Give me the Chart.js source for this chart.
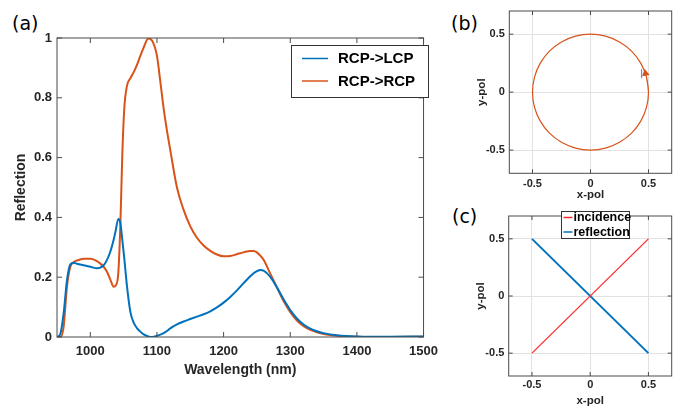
<!DOCTYPE html>
<html>
<head>
<meta charset="utf-8">
<script src="https://cdn.jsdelivr.net/npm/chart.js@4.4.1/dist/chart.umd.min.js"></script>
<style>
  body { margin: 0; background: #fff; width: 685px; height: 413px; overflow: hidden; position: relative; }
  canvas { position: absolute; }
  .lbl { position: absolute; font-family: "DejaVu Sans", sans-serif; font-size: 19px; line-height: 19px; color: #000; }
</style>
</head>
<body>
<div class="lbl" style="left:12px; top:14px;">(a)</div>
<div class="lbl" style="left:451px; top:14px;">(b)</div>
<div class="lbl" style="left:452px; top:207px;">(c)</div>
<canvas id="ca" width="445" height="413" style="left:0; top:0;"></canvas>
<canvas id="cb" width="230" height="205" style="left:455px; top:0;"></canvas>
<canvas id="cc" width="230" height="208" style="left:455px; top:205px;"></canvas>
<script>
// (a) reflection spectra
var wavelength = [950, 955, 960, 965, 970, 975, 980, 990, 1000, 1010, 1020, 1025, 1030, 1035, 1038, 1042, 1045, 1048, 1051, 1055,
  1060, 1065, 1070, 1075, 1080, 1087, 1093, 1100, 1105, 1110, 1115, 1120, 1130, 1140, 1150, 1160, 1170, 1180, 1190, 1200,
  1210, 1220, 1230, 1240, 1245, 1250, 1255, 1260, 1270, 1280, 1290, 1300, 1310, 1320, 1330, 1340, 1350, 1370, 1400, 1450, 1500];
var rcpToLcp = [0, 0.01, 0.08, 0.19, 0.243, 0.248, 0.245, 0.24, 0.235, 0.23, 0.24, 0.258, 0.285, 0.325, 0.355, 0.395, 0.382, 0.325, 0.262, 0.17,
  0.085, 0.048, 0.03, 0.018, 0.009, 0.002, 0, 0.004, 0.008, 0.013, 0.02, 0.029, 0.042, 0.052, 0.06, 0.068, 0.076, 0.086, 0.099, 0.115,
  0.134, 0.156, 0.18, 0.203, 0.213, 0.22, 0.224, 0.222, 0.201, 0.166, 0.126, 0.09, 0.062, 0.042, 0.028, 0.019, 0.013, 0.006, 0.002, 0.001, 0.002];
var rcpToRcp = [0, 0, 0.035, 0.17, 0.235, 0.25, 0.256, 0.262, 0.262, 0.254, 0.235, 0.218, 0.192, 0.168, 0.172, 0.215, 0.37, 0.61, 0.765, 0.84,
  0.865, 0.885, 0.91, 0.94, 0.968, 0.998, 0.99, 0.94, 0.855, 0.765, 0.69, 0.625, 0.5, 0.425, 0.37, 0.332, 0.306, 0.288, 0.276, 0.27,
  0.271, 0.277, 0.283, 0.288, 0.288, 0.283, 0.272, 0.258, 0.212, 0.166, 0.12, 0.083, 0.055, 0.036, 0.024, 0.016, 0.01, 0.004, 0.001, 0, 0.001];
var xTicksA = [1000, 1100, 1200, 1300, 1400, 1500];
var yTicksA = [0, 0.2, 0.4, 0.6, 0.8, 1];

// (b) polarization ellipse of the reflected wave
var circleX = [0.5, 0.483, 0.433, 0.354, 0.25, 0.129, 0, -0.129, -0.25, -0.354, -0.433, -0.483, -0.5,
  -0.483, -0.433, -0.354, -0.25, -0.129, 0, 0.129, 0.25, 0.354, 0.433, 0.483, 0.5, 0.483];
var circleY = [0, 0.129, 0.25, 0.354, 0.433, 0.483, 0.5, 0.483, 0.433, 0.354, 0.25, 0.129, 0,
  -0.129, -0.25, -0.354, -0.433, -0.483, -0.5, -0.483, -0.433, -0.354, -0.25, -0.129, 0, 0.129];
var arrowX = [0.474];
var arrowY = [0.162];
var stubX = [0.44, 0.44];
var stubY = [0.12, 0.2];

// (c) linear polarization
var incidenceX = [-0.5, 0.5];
var incidenceY = [-0.5, 0.5];
var reflectionX = [-0.5, 0.5];
var reflectionY = [0.5, -0.5];
var polTicks = [-0.5, 0, 0.5];

var BLUE = "#0072BD", ORANGE = "#D95319", RED = "#FF2A2A", INK = "#262626";
var SANS = "'Liberation Sans', Arial, sans-serif";

function pts(xs, ys) {
  var out = [];
  for (var i = 0; i < xs.length; i++) out.push({x: xs[i], y: ys[i]});
  return out;
}

// box around the axes with inward tick marks on all four sides
var boxPlugin = {
  id: "box",
  afterDatasetsDraw: function(chart, args, opts) {
    var ctx = chart.ctx, a = chart.chartArea, sx = chart.scales.x, sy = chart.scales.y;
    var L = opts.len || 5;
    ctx.save();
    ctx.strokeStyle = "#4a4a4a";
    ctx.lineWidth = 1;
    ctx.strokeRect(a.left, a.top, a.right - a.left, a.bottom - a.top);
    ctx.beginPath();
    sx.ticks.forEach(function(t) {
      var p = sx.getPixelForValue(t.value);
      ctx.moveTo(p, a.bottom); ctx.lineTo(p, a.bottom - L);
      ctx.moveTo(p, a.top); ctx.lineTo(p, a.top + L);
    });
    sy.ticks.forEach(function(t) {
      var p = sy.getPixelForValue(t.value);
      ctx.moveTo(a.left, p); ctx.lineTo(a.left + L, p);
      ctx.moveTo(a.right, p); ctx.lineTo(a.right - L, p);
    });
    ctx.stroke();
    ctx.restore();
  }
};

// matlab style legend box inside the axes
var boxLegend = {
  id: "boxLegend",
  afterDraw: function(chart, args, o) {
    if (!o || !o.w) return;
    var ctx = chart.ctx;
    ctx.save();
    ctx.fillStyle = "#fff";
    ctx.fillRect(o.x, o.y, o.w, o.h);
    ctx.strokeStyle = "#333";
    ctx.lineWidth = 1;
    ctx.strokeRect(o.x, o.y, o.w, o.h);
    ctx.font = "bold " + o.size + "px " + SANS;
    ctx.textBaseline = "middle";
    ctx.fillStyle = "#000";
    var k = 0;
    chart.data.datasets.forEach(function(ds) {
      if (!ds.inLegend) return;
      var cy = o.rows[k++];
      ctx.strokeStyle = ds.borderColor;
      ctx.lineWidth = 1.5;
      ctx.beginPath();
      ctx.moveTo(o.lx0, cy); ctx.lineTo(o.lx1, cy);
      ctx.stroke();
      ctx.fillText(ds.label, o.tx, cy + 0.5);
    });
    ctx.restore();
  }
};

function fixTicks(list) {
  return function(axis) { axis.ticks = list.map(function(v) { return {value: v}; }); };
}
function plain(v) { return String(v); }

// ---- (a)
new Chart(document.getElementById("ca"), {
  type: "line",
  data: {
    datasets: [
      {label: "RCP->LCP", data: pts(wavelength, rcpToLcp), borderColor: BLUE, borderWidth: 2, pointRadius: 0,
       cubicInterpolationMode: "monotone", inLegend: true},
      {label: "RCP->RCP", data: pts(wavelength, rcpToRcp), borderColor: ORANGE, borderWidth: 2, pointRadius: 0,
       cubicInterpolationMode: "monotone", inLegend: true}
    ]
  },
  options: {
    responsive: false, animation: false, events: [],
    layout: {padding: {left: 0, top: 38, right: 7, bottom: 0}},
    plugins: {
      legend: {display: false}, tooltip: {enabled: false},
      box: {len: 5},
      boxLegend: {x: 291.5, y: 45.5, w: 137, h: 52, size: 15, lx0: 302, lx1: 328, tx: 338, rows: [58.5, 81]}
    },
    scales: {
      x: {
        type: "linear", min: 950, max: 1500,
        afterBuildTicks: fixTicks(xTicksA),
        afterFit: function(s) { s.height = 76; },
        grid: {display: false, drawTicks: false}, border: {display: false},
        ticks: {color: INK, padding: 7, font: {family: SANS, size: 13, weight: "bold"}, callback: plain},
        title: {display: true, text: "Wavelength (nm)", color: INK, font: {family: SANS, size: 14, weight: "bold"}, padding: {top: 0, bottom: 34.5}}
      },
      y: {
        type: "linear", min: 0, max: 1,
        afterBuildTicks: fixTicks(yTicksA),
        afterFit: function(s) { s.width = 57; },
        grid: {display: false, drawTicks: false}, border: {display: false},
        ticks: {color: INK, padding: 5, font: {family: SANS, size: 13, weight: "bold"}, callback: plain},
        title: {display: true, text: "Reflection", color: INK, font: {family: SANS, size: 14, weight: "bold"}, padding: {top: 13, bottom: 0}}
      }
    }
  },
  plugins: [boxPlugin, boxLegend]
});

function polScales(xh, yw, xtPad, xtitlePad, ytitlePad) {
  var tickFont = {family: SANS, size: 11, weight: "bold"};
  var titleFont = {family: SANS, size: 11.5, weight: "bold"};
  return {
    x: {
      type: "linear", min: -0.7, max: 0.7,
      afterBuildTicks: fixTicks(polTicks),
      afterFit: function(s) { s.height = xh; },
      grid: {color: "#e2e2e2", drawTicks: false}, border: {display: false},
      ticks: {color: INK, padding: xtPad, font: tickFont, callback: plain},
      title: {display: true, text: "x-pol", color: INK, font: titleFont, padding: {top: 0, bottom: xtitlePad}}
    },
    y: {
      type: "linear", min: -0.7, max: 0.7,
      afterBuildTicks: fixTicks(polTicks),
      afterFit: function(s) { s.width = yw; },
      grid: {color: "#e2e2e2", drawTicks: false}, border: {display: false},
      ticks: {color: INK, padding: 4.4, font: tickFont, callback: plain},
      title: {display: true, text: "y-pol", color: INK, font: titleFont, padding: {top: ytitlePad, bottom: 0}}
    }
  };
}

// ---- (b)
new Chart(document.getElementById("cb"), {
  type: "line",
  data: {
    datasets: [
      {label: "ellipse", data: pts(circleX, circleY), borderColor: ORANGE, borderWidth: 1.2, pointRadius: 0, tension: 0.4},
      {label: "stub", data: pts(stubX, stubY), borderColor: "#5b9bd5", borderWidth: 1.2, pointRadius: 0},
      {label: "arrow", data: pts(arrowX, arrowY), showLine: false, pointStyle: "triangle", pointRotation: 110,
       pointRadius: 4.5, backgroundColor: ORANGE, borderColor: ORANGE, borderWidth: 0}
    ]
  },
  options: {
    responsive: false, animation: false, events: [],
    layout: {padding: {left: 0, top: 6, right: 13.3, bottom: 0}},
    plugins: {legend: {display: false}, tooltip: {enabled: false}, box: {len: 4}},
    scales: polScales(31.7, 54.3, 3.6, 3, 19.8)
  },
  plugins: [boxPlugin]
});

// ---- (c)
new Chart(document.getElementById("cc"), {
  type: "line",
  data: {
    datasets: [
      {label: "incidence", data: pts(incidenceX, incidenceY), borderColor: RED, borderWidth: 1.3, pointRadius: 0, inLegend: true},
      {label: "reflection", data: pts(reflectionX, reflectionY), borderColor: BLUE, borderWidth: 2, pointRadius: 0, inLegend: true}
    ]
  },
  options: {
    responsive: false, animation: false, events: [],
    layout: {padding: {left: 0, top: 5, right: 13.3, bottom: 0}},
    plugins: {
      legend: {display: false}, tooltip: {enabled: false}, box: {len: 4},
      boxLegend: {x: 106.5, y: 6.5, w: 68, h: 27, size: 12.5, lx0: 108.5, lx1: 117.5, tx: 118.5, rows: [12.5, 27]}
    },
    scales: polScales(37, 53.7, 2.7, 5.6, 19.4)
  },
  plugins: [boxPlugin, boxLegend]
});
</script>
</body>
</html>
